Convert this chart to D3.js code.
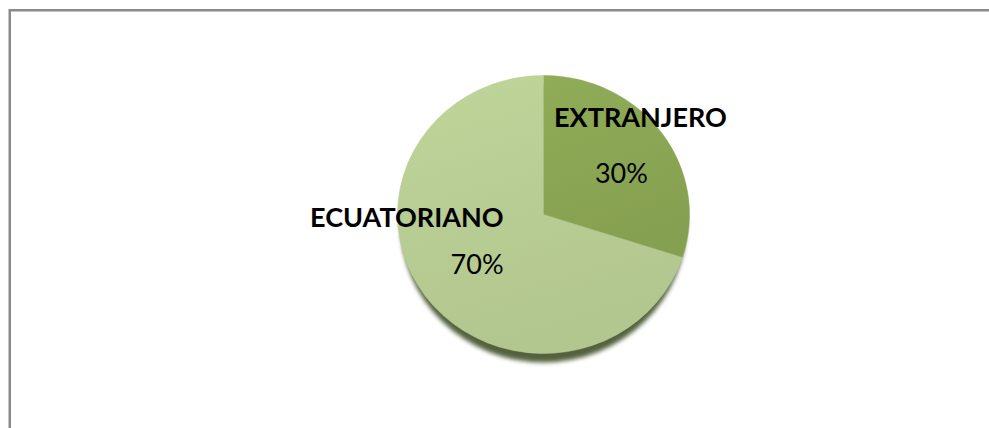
<!DOCTYPE html>
<html lang="es">
<head>
  <meta charset="UTF-8">
  <title>Nacionalidad</title>
  <style>
    html, body { margin: 0; padding: 0; background: #fff; }
    svg { display: block; }
    .name { font-family: Lato, "Open Sans", sans-serif; font-weight: bold; font-size: 27px; fill: #000; }
    .pct { font-family: Lato, "Open Sans", sans-serif; font-size: 27px; fill: #000; }
  </style>
  <script src="https://d3js.org/d3.v7.min.js"></script>
</head>
<body>
  <div id="chart"></div>
  <script>
    // datos
    var categories = ["EXTRANJERO", "ECUATORIANO"];
    var values = [30, 70];
    var colors = ["#8aa553", "#b7cc93"];

    var width = 989, height = 428;
    var cx = 543.5, cy = 214.5, r = 146, squash = 139 / 146;

    var svg = d3.select("#chart").append("svg")
      .attr("width", width)
      .attr("height", height);

    // marco del gráfico
    svg.append("rect")
      .attr("x", 9.75).attr("y", 10.25)
      .attr("width", 1000).attr("height", 600)
      .attr("fill", "#fff")
      .attr("stroke", "#8a8a8a")
      .attr("stroke-width", 2.5);

    var defs = svg.append("defs");
    defs.append("filter").attr("id", "blur")
      .attr("x", "-10%").attr("y", "-10%").attr("width", "120%").attr("height", "130%")
      .append("feGaussianBlur").attr("stdDeviation", 2.2);

    // degradado suave en cada porción
    colors.forEach(function(c, i) {
      var g = defs.append("linearGradient").attr("id", "grad" + i)
        .attr("x1", 0).attr("y1", 0).attr("x2", 0.3).attr("y2", 1);
      g.append("stop").attr("offset", "0%").attr("stop-color", d3.color(c).brighter(0.12));
      g.append("stop").attr("offset", "100%").attr("stop-color", d3.color(c).darker(0.08));
    });

    var data = categories.map(function(c, i) { return { name: c, value: values[i] }; });

    var pie = d3.pie().sort(null).value(function(d) { return d.value; });
    var arc = d3.arc().innerRadius(0).outerRadius(r);
    var arcs = pie(data);

    var g = svg.append("g")
      .attr("transform", "translate(" + cx + "," + cy + ")");

    // sombra inferior
    g.append("ellipse")
      .attr("cx", 0).attr("cy", 9)
      .attr("rx", r - 3).attr("ry", r * squash)
      .attr("fill", "#42512a")
      .attr("opacity", 0.9)
      .attr("filter", "url(#blur)");

    g.append("g")
      .attr("transform", "scale(1," + squash + ")")
      .selectAll("path")
      .data(arcs)
      .enter().append("path")
      .attr("d", arc)
      .attr("fill", function(d, i) { return "url(#grad" + i + ")"; })
      .attr("stroke", function(d, i) { return colors[i]; })
      .attr("stroke-width", 0.5);

    // etiquetas (posición según el ángulo de cada porción)
    var labelArc = d3.arc().innerRadius(105).outerRadius(105);
    var layout = [
      { name: [12, -29, "middle"], pct: [-7, 27, "middle"] },
      { name: [45, -46, "end"], pct: [45, 1, "end"] }
    ];

    var labels = g.selectAll(".label")
      .data(arcs)
      .enter().append("g")
      .attr("class", "label")
      .attr("transform", function(d) {
        var c = labelArc.centroid(d);
        return "translate(" + c[0] + "," + (c[1] * squash) + ")";
      });

    labels.append("text")
      .attr("class", "name")
      .attr("x", function(d, i) { return layout[i].name[0]; })
      .attr("y", function(d, i) { return layout[i].name[1]; })
      .attr("text-anchor", function(d, i) { return layout[i].name[2]; })
      .text(function(d) { return d.data.name; });

    labels.append("text")
      .attr("class", "pct")
      .attr("x", function(d, i) { return layout[i].pct[0]; })
      .attr("y", function(d, i) { return layout[i].pct[1]; })
      .attr("text-anchor", function(d, i) { return layout[i].pct[2]; })
      .text(function(d) { return Math.round(100 * (d.endAngle - d.startAngle) / (2 * Math.PI)) + "%"; });
  </script>
</body>
</html>
